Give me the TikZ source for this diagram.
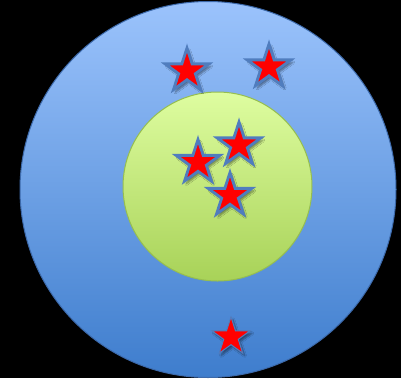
\documentclass[tikz,border=0pt]{standalone}
\usetikzlibrary{shapes.geometric,shadows.blur}
\definecolor{bluetop}{RGB}{155,195,252}
\definecolor{bluebot}{RGB}{62,125,205}
\definecolor{blueedge}{RGB}{60,105,170}
\definecolor{greentop}{RGB}{222,253,160}
\definecolor{greenbot}{RGB}{168,210,88}
\definecolor{greenedge}{RGB}{150,190,80}
\definecolor{staredge}{RGB}{80,125,190}
\begin{document}
\begin{tikzpicture}[x=1pt,y=-1pt,
  disc/.style={circle, inner sep=0pt, outer sep=0pt},
  redstar/.style={star, star points=5, star point ratio=2.618, inner sep=0pt, outer sep=0pt,
    minimum size=46pt, fill=red, draw=staredge, line width=2.8pt,
    blur shadow={shadow xshift=2pt, shadow yshift=-2.5pt, shadow opacity=45, shadow blur steps=6}},
  smallstar/.style={redstar, minimum size=40pt, line width=1pt}
]
\fill[black] (0,0) rectangle (401,378);
\useasboundingbox (0,0) rectangle (401,378);
\node[disc, minimum size=376pt, top color=bluetop, bottom color=bluebot, draw=blueedge, line width=1pt] (outer) at (208,189.5) {};
\node[disc, minimum size=189pt, top color=greentop, bottom color=greenbot, draw=greenedge, line width=1pt] (inner) at (217.5,186.5) {};
\node[redstar] (s1) at (187,71) {};
\node[redstar] (s2) at (269,67) {};
\node[redstar] (s3) at (198,162.5) {};
\node[redstar] (s4) at (239,145) {};
\node[redstar] (s5) at (230,195.5) {};
\node[smallstar] (s6) at (231,337) {};
\end{tikzpicture}
\end{document}
